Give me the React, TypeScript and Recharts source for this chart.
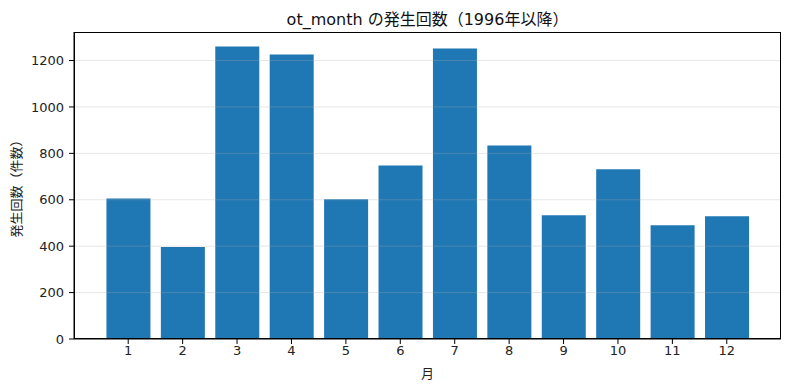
import { BarChart, Bar, XAxis, YAxis, ReferenceLine } from 'recharts';

const months = ['1', '2', '3', '4', '5', '6', '7', '8', '9', '10', '11', '12'];
const counts = [606, 396, 1260, 1226, 602, 748, 1252, 834, 533, 731, 490, 529];
const yTicks = [0, 200, 400, 600, 800, 1000, 1200];

const chartData = months.map((m, i) => ({ month: m, count: counts[i] }));

const FONT = '"DejaVu Sans", "Noto Sans CJK JP", sans-serif';
const tickStyle = { fill: '#222', fontSize: 13, fontFamily: FONT };

export default function App() {
  return (
    <div style={{ position: 'absolute', left: 0, top: 0, width: 790, height: 390, background: '#fff', fontFamily: FONT }}>
      <div
        style={{
          position: 'absolute',
          top: 6,
          left: 74,
          width: 707,
          textAlign: 'center',
          fontSize: 16,
          color: '#111',
        }}
      >
        ot_month の発生回数（1996年以降）
      </div>
      <BarChart
        width={790}
        height={390}
        data={chartData}
        margin={{ top: 32, right: 9, bottom: 0, left: 0 }}
        barCategoryGap="10%"
      >
        <XAxis
          dataKey="month"
          height={51}
          padding={{ left: 27, right: 27 }}
          stroke="#000"
          tick={tickStyle}
          tickLine={{ stroke: '#000' }}
          tickSize={5}
          interval={0}
          label={{ value: '月', position: 'insideBottom', offset: 12, fill: '#222', fontSize: 13, fontFamily: FONT }}
        />
        <YAxis
          width={74}
          domain={[0, 1323]}
          ticks={yTicks}
          allowDataOverflow
          stroke="#000"
          tick={{ ...tickStyle, dx: -3 }}
          tickLine={{ stroke: '#000' }}
          tickSize={5}
          label={{
            value: '発生回数（件数）',
            angle: -90,
            position: 'insideLeft',
            offset: 16,
            fill: '#222',
            fontSize: 13,
            fontFamily: FONT,
            style: { textAnchor: 'middle' },
          }}
        />
        <Bar dataKey="count" fill="#1f77b4" isAnimationActive={false} />
        {yTicks.slice(1).map((t) => (
          <ReferenceLine key={t} y={t} stroke="#b0b0b0" strokeOpacity={0.3} strokeWidth={1} />
        ))}
      </BarChart>
      {/* plot frame (matplotlib-style full box) */}
      <div
        style={{
          position: 'absolute',
          left: 73.5,
          top: 31.5,
          width: 707,
          height: 307,
          border: '1px solid #000',
          boxSizing: 'border-box',
          pointerEvents: 'none',
        }}
      />
    </div>
  );
}
